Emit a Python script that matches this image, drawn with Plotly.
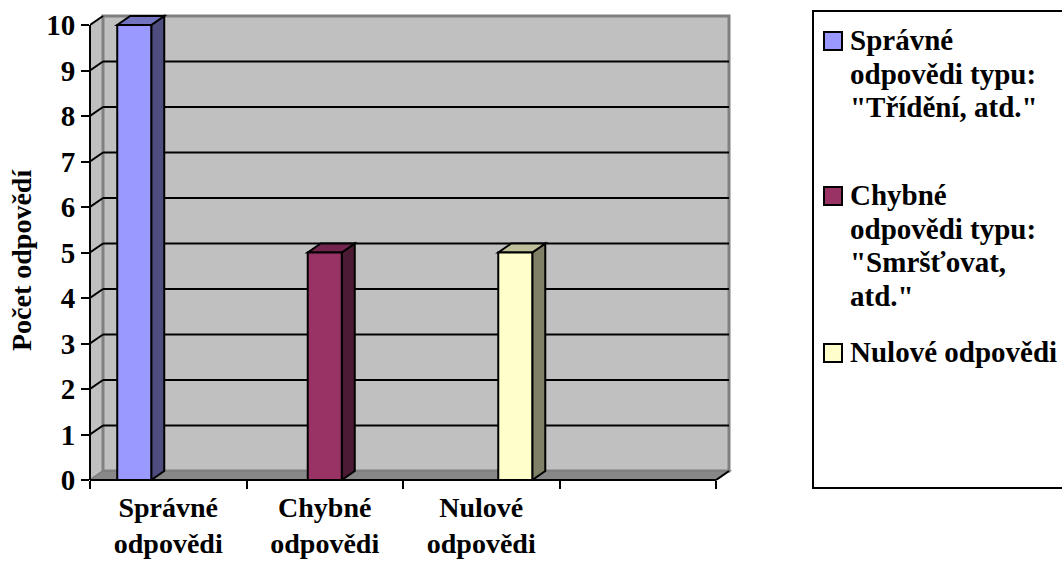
import plotly.graph_objects as go

# ---- data -------------------------------------------------------------
CATEGORIES = ["Správné odpovědi", "Chybné odpovědi", "Nulové odpovědi", ""]
SERIES_NAMES = [
    'Správné odpovědi typu: "Třídění, atd."',
    'Chybné odpovědi typu: "Smršťovat, atd."',
    "Nulové odpovědi",
]
LEGEND_LINES = [
    ["Správné", "odpovědi typu:", '"Třídění, atd."'],
    ["Chybné", "odpovědi typu:", '"Smršťovat,', 'atd."'],
    ["Nulové odpovědi"],
]
CORRECT = [10, None, None, None]
WRONG = [None, 5, None, None]
EMPTY = [None, None, 5, None]
SERIES_VALUES = [CORRECT, WRONG, EMPTY]
Y_TICKS = list(range(0, 11))
Y_TITLE = "Počet odpovědí"

# ---- styling ----------------------------------------------------------
FRONT = ["#9999FF", "#993366", "#FFFFCC"]
SIDE = ["#4D4D80", "#4D1A33", "#808066"]
TOP = ["#7373BF", "#73264D", "#BFBF99"]
WALL = "#C0C0C0"
FLOOR = "#888888"
EDGE = "#808080"
FONT = "Liberation Serif"
FS = 28

W, H = 1062, 561
PL, PT = 90, 14            # plot area origin (px)
CAT_PX, UNIT_PX = 156.5, 45.5
PW, PH = 652, 466
XR = [-0.5, -0.5 + PW / CAT_PX]
YR = [0, PH / UNIT_PX]
DX, DY = 13 / CAT_PX, 9 / UNIT_PX   # depth of the 3-D box
BARGAP = 0.348
NCAT = len(CATEGORIES)
YMAX = Y_TICKS[-1]


def fx(x):
    return (x - XR[0]) / (XR[1] - XR[0])


def fy(y):
    return (y - YR[0]) / (YR[1] - YR[0])


def px_x(p):
    return (p - PL) / PW


def px_y(p):
    return 1 - (p - PT) / PH


def path(pts):
    return "M " + " L ".join(f"{x},{y}" for x, y in pts) + " Z"


shapes = []
x0e, x1e = -0.5, NCAT - 0.5

# side wall, back wall, floor
shapes.append(dict(type="path", xref="x", yref="y", layer="below",
                   path=path([(x0e, 0), (x0e, YMAX), (x0e + DX, YMAX + DY), (x0e + DX, DY)]),
                   fillcolor=WALL, line=dict(width=0)))
shapes.append(dict(type="rect", xref="x", yref="y", layer="below",
                   x0=x0e + DX, x1=x1e + DX, y0=DY, y1=YMAX + DY,
                   fillcolor=WALL, line=dict(color=EDGE, width=3)))
shapes.append(dict(type="path", xref="x", yref="y", layer="below",
                   path=path([(x0e, 0), (x1e, 0), (x1e + DX, DY), (x0e + DX, DY)]),
                   fillcolor=FLOOR, line=dict(color=EDGE, width=2)))

# gridlines on the back wall and their connectors on the side wall
for v in Y_TICKS[1:]:
    if v < YMAX:
        shapes.append(dict(type="line", xref="x", yref="y", layer="below",
                           x0=x0e + DX, x1=x1e + DX, y0=v + DY, y1=v + DY,
                           line=dict(color="black", width=2)))
    shapes.append(dict(type="line", xref="x", yref="y", layer="below",
                       x0=x0e, x1=x0e + DX, y0=v, y1=v + DY,
                       line=dict(color="black", width=2)))

# side and top faces of the columns
n = len(SERIES_VALUES)
bw = (1 - BARGAP) / n
for k, vals in enumerate(SERIES_VALUES):
    for i, v in enumerate(vals):
        if v is None:
            continue
        a = i - (1 - BARGAP) / 2 + k * bw
        b = a + bw
        shapes.append(dict(type="path", xref="x", yref="y", layer="below",
                           path=path([(b, 0), (b, v), (b + DX, v + DY), (b + DX, DY)]),
                           fillcolor=SIDE[k], line=dict(color="black", width=2)))
        shapes.append(dict(type="path", xref="x", yref="y", layer="below",
                           path=path([(a, v), (b, v), (b + DX, v + DY), (a + DX, v + DY)]),
                           fillcolor=TOP[k], line=dict(color="black", width=2)))

# front axis lines
ax = dict(type="line", xref="x domain", yref="y domain", layer="above",
          line=dict(color="black", width=2))
shapes.append({**ax, "x0": fx(x0e), "x1": fx(x0e), "y0": fy(0), "y1": fy(YMAX)})
shapes.append({**ax, "x0": fx(x0e), "x1": fx(x1e), "y0": fy(0), "y1": fy(0)})
shapes.append({**ax, "x0": fx(x1e), "x1": fx(x1e + DX), "y0": fy(0), "y1": fy(DY)})

# legend frame and keys
shapes.append(dict(type="rect", xref="paper", yref="paper", layer="above",
                   x0=px_x(813), x1=px_x(1075), y0=px_y(488), y1=px_y(11),
                   line=dict(color="black", width=2), fillcolor="rgba(0,0,0,0)"))
ENTRY_BASE = [50, 205, 362]
LINE_GAP = 33.5
annotations = []
for k, lines in enumerate(LEGEND_LINES):
    base = ENTRY_BASE[k]
    shapes.append(dict(type="rect", xref="paper", yref="paper", layer="above",
                       x0=px_x(824), x1=px_x(842), y0=px_y(base), y1=px_y(base - 18),
                       fillcolor=FRONT[k], line=dict(color="black", width=2)))
    for j, t in enumerate(lines):
        bl = base + j * LINE_GAP
        annotations.append(dict(xref="paper", yref="paper", x=px_x(848), y=px_y(bl - 0.34 * 29),
                                xanchor="left", yanchor="middle", showarrow=False, text=t,
                                font=dict(family=FONT, size=29, color="black", weight="bold")))

annotations.append(dict(xref="paper", yref="paper", x=px_x(21), y=px_y(260),
                        xanchor="center", yanchor="middle", showarrow=False, textangle=-90,
                        text=Y_TITLE,
                        font=dict(family=FONT, size=FS, color="black", weight="bold")))

fig = go.Figure()
for k, vals in enumerate(SERIES_VALUES):
    fig.add_trace(go.Bar(
        x=list(range(NCAT)), y=vals, name=SERIES_NAMES[k],
        marker=dict(color=FRONT[k], line=dict(color="black", width=2)),
        showlegend=False,
    ))

fig.update_layout(
    width=W, height=H,
    margin=dict(l=PL, r=W - PL - PW, t=PT, b=H - PT - PH),
    paper_bgcolor="white", plot_bgcolor="rgba(0,0,0,0)",
    barmode="group", bargap=BARGAP, bargroupgap=0,
    shapes=shapes, annotations=annotations,
    xaxis=dict(range=XR, tickmode="array", tickvals=list(range(NCAT)),
               ticktext=[c.replace(" ", "<br>") for c in CATEGORIES],
               ticks="", showgrid=False, zeroline=False, showline=False,
               automargin=False, ticklabelstandoff=8,
               tickfont=dict(family=FONT, size=FS, color="black", weight="bold"),
               minor=dict(tickmode="array", tickvals=[i - 0.5 for i in range(NCAT + 1)],
                          ticks="outside", ticklen=8, tickwidth=2, tickcolor="black",
                          showgrid=False)),
    yaxis=dict(range=YR, tickmode="array", tickvals=Y_TICKS,
               ticks="outside", ticklen=8, tickwidth=2, tickcolor="black",
               showgrid=False, zeroline=False, showline=False, automargin=False,
               tickfont=dict(family=FONT, size=29, color="black", weight="bold")),
)

fig.write_html("out.html")
